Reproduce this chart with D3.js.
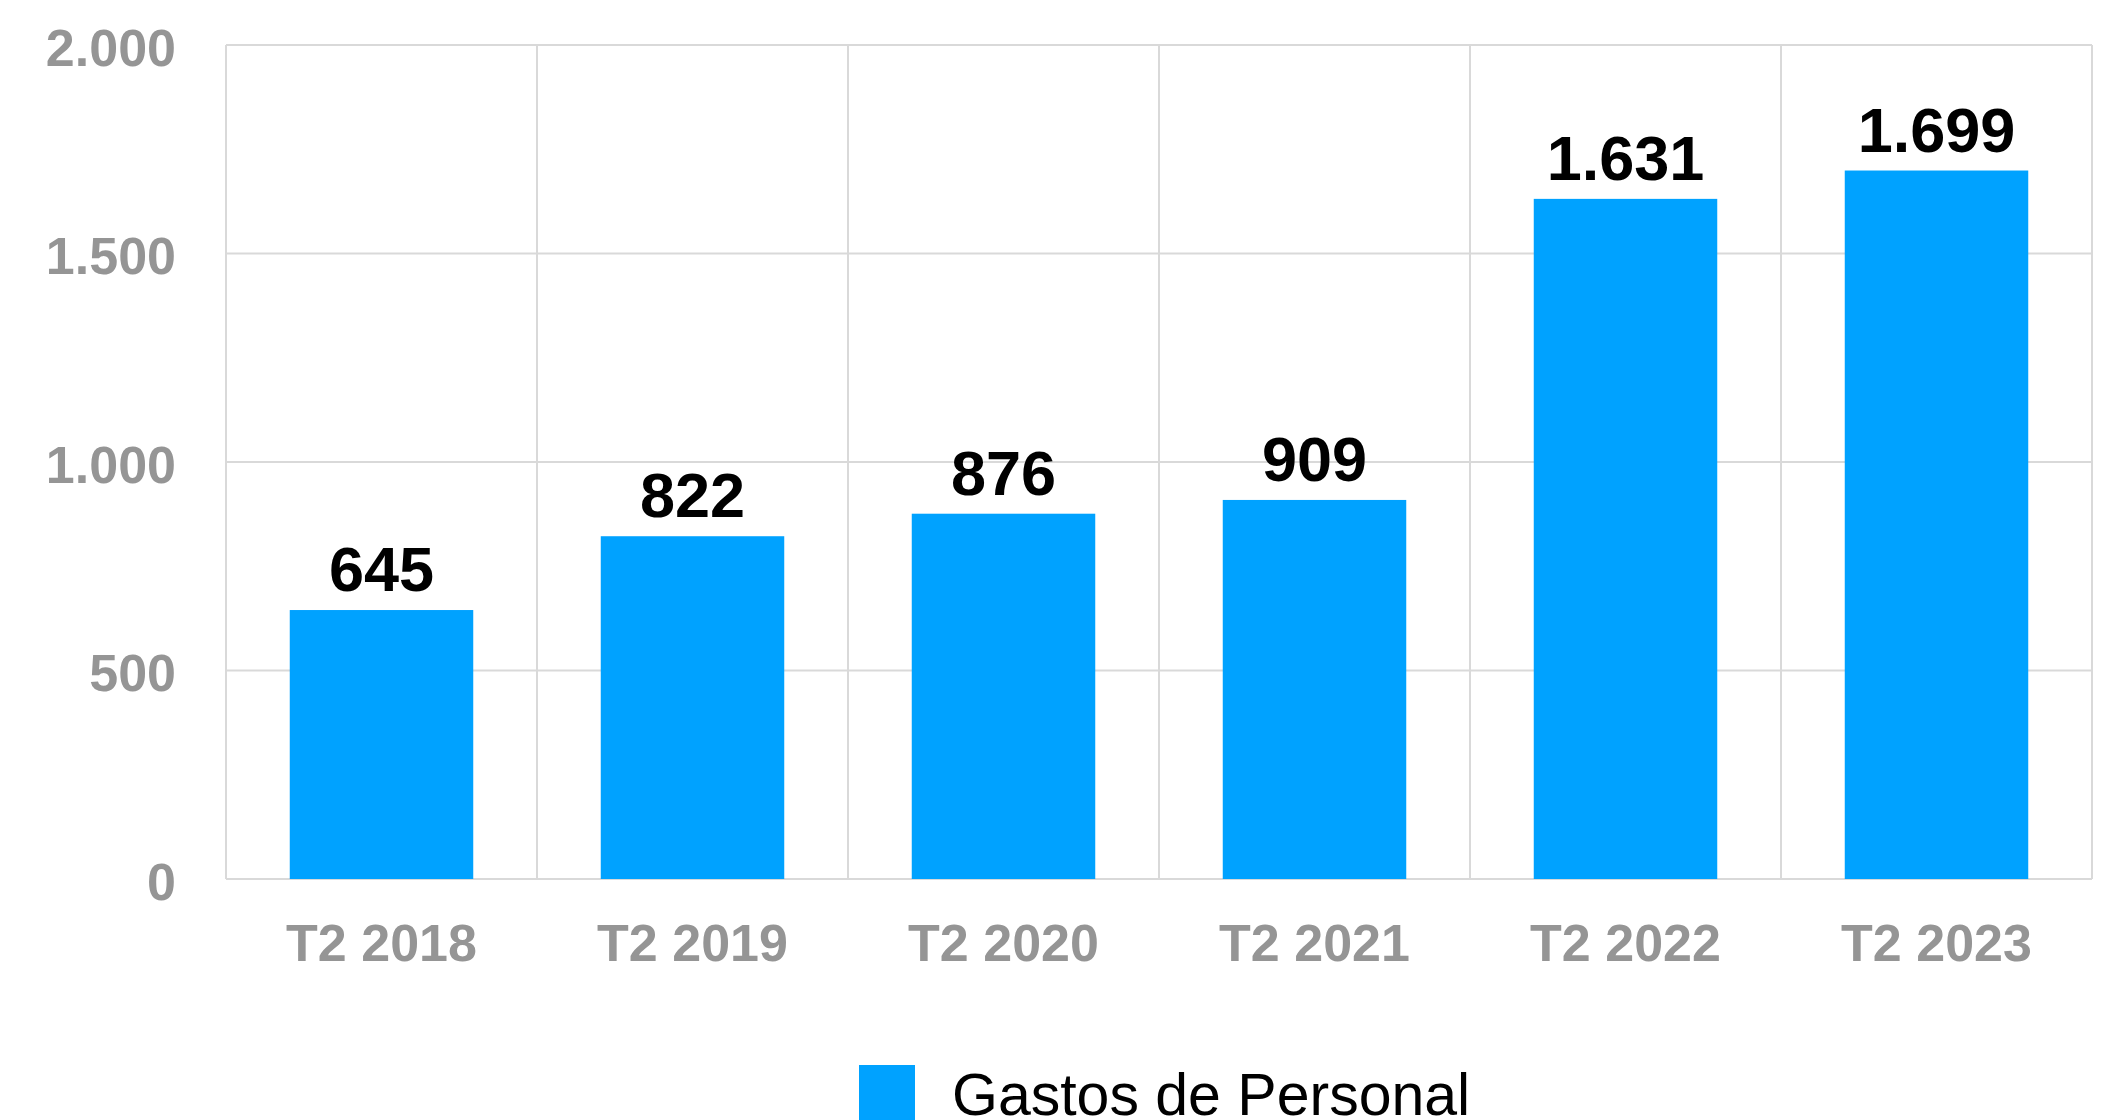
<!DOCTYPE html>
<html>
<head>
<meta charset="utf-8">
<script src="https://cdn.jsdelivr.net/npm/d3@7"></script>
<style>
  html, body { margin: 0; padding: 0; background: #fff; }
  svg { display: block; font-family: "Liberation Sans", Helvetica, Arial, sans-serif; }
</style>
</head>
<body>
<div id="chart"></div>
<script>
// data
const categories = ["T2 2018", "T2 2019", "T2 2020", "T2 2021", "T2 2022", "T2 2023"];
const gastos = [645, 822, 876, 909, 1631, 1699];
const yTicks = [0, 500, 1000, 1500, 2000];
const seriesName = "Gastos de Personal";

const W = 2106, H = 1120;
const margin = { top: 45, right: 14, bottom: 241, left: 226 };
const iw = W - margin.left - margin.right;
const ih = H - margin.top - margin.bottom;

const es = d3.formatLocale({ decimal: ",", thousands: ".", grouping: [3], currency: ["", " €"] });
const fmt = es.format(",d");

const svg = d3.select("#chart").append("svg")
    .attr("width", W)
    .attr("height", H);

const g = svg.append("g")
    .attr("transform", "translate(" + margin.left + "," + margin.top + ")");

const x = d3.scaleBand()
    .domain(categories)
    .range([0, iw])
    .paddingInner(0.41)
    .paddingOuter(0.205);

const y = d3.scaleLinear()
    .domain([0, 2000])
    .range([ih, 0]);

const grid = "#d9d9d9";

// horizontal grid
g.append("g")
    .selectAll("line")
    .data(yTicks)
    .join("line")
    .attr("x1", 0).attr("x2", iw)
    .attr("y1", d => y(d)).attr("y2", d => y(d))
    .attr("stroke", grid)
    .attr("stroke-width", 2);

// vertical separators between categories (and outer frame)
const step = iw / categories.length;
g.append("g")
    .selectAll("line")
    .data(d3.range(categories.length + 1))
    .join("line")
    .attr("x1", i => i * step).attr("x2", i => i * step)
    .attr("y1", 0).attr("y2", ih)
    .attr("stroke", grid)
    .attr("stroke-width", 2);

// y axis labels
const yAxis = d3.axisLeft(y)
    .tickValues(yTicks)
    .tickSize(0)
    .tickPadding(50)
    .tickFormat(fmt);
g.append("g")
    .call(yAxis)
    .call(s => s.select(".domain").remove())
    .selectAll("text")
    .attr("fill", "#959595")
    .attr("font-size", 52)
    .attr("font-weight", "bold")
    .attr("dy", "0.39em")
    .style("font-family", "'Liberation Sans', Helvetica, Arial, sans-serif");

// x axis labels
const xAxis = d3.axisBottom(x).tickSize(0).tickPadding(45);
g.append("g")
    .attr("transform", "translate(0," + ih + ")")
    .call(xAxis)
    .call(s => s.select(".domain").remove())
    .selectAll("text")
    .attr("fill", "#959595")
    .attr("font-size", 52)
    .attr("font-weight", "bold")
    .style("font-family", "'Liberation Sans', Helvetica, Arial, sans-serif");

// bars
g.append("g")
    .selectAll("rect")
    .data(gastos)
    .join("rect")
    .attr("x", (d, i) => x(categories[i]))
    .attr("width", x.bandwidth())
    .attr("y", d => y(d))
    .attr("height", d => ih - y(d))
    .attr("fill", "#00a2ff");

// value labels
g.append("g")
    .selectAll("text")
    .data(gastos)
    .join("text")
    .attr("x", (d, i) => x(categories[i]) + x.bandwidth() / 2)
    .attr("y", d => y(d) - 19)
    .attr("text-anchor", "middle")
    .attr("font-size", 63)
    .attr("font-weight", "bold")
    .attr("fill", "#000")
    .text(d => fmt(d));

// legend
const legend = svg.append("g").attr("transform", "translate(859,1065)");
legend.append("rect")
    .attr("width", 56).attr("height", 60)
    .attr("fill", "#00a2ff");
legend.append("text")
    .attr("x", 93)
    .attr("y", 50)
    .attr("font-size", 59)
    .attr("fill", "#000")
    .text(seriesName);
</script>
</body>
</html>
